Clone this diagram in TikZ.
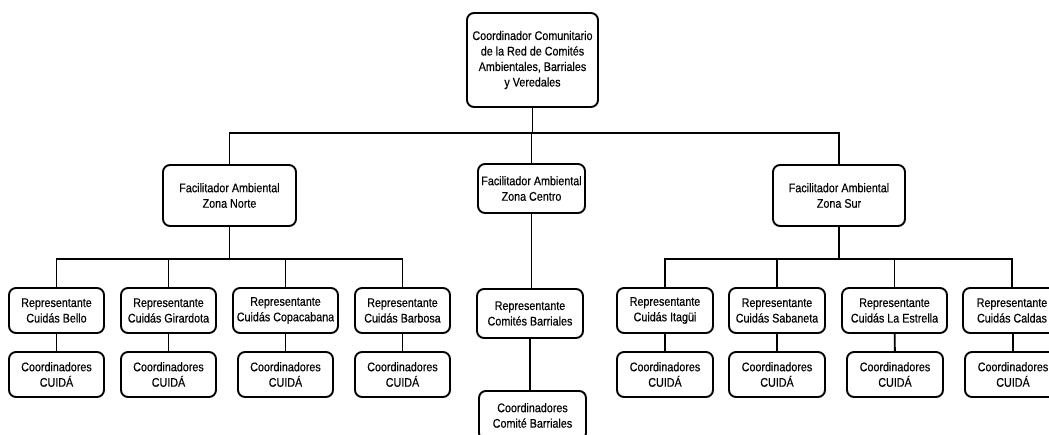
\documentclass[tikz,border=0pt]{standalone}
\usepackage{fontspec}
\setmainfont[FakeStretch=0.86,FakeBold=0.35]{Liberation Sans}
\begin{document}
\begin{tikzpicture}[x=1pt,y=-1pt,
  box/.style={draw=black,line width=1.9pt,rounded corners=7pt,fill=white,align=center,
    font=\fontsize{12.5}{15.5}\selectfont,inner sep=0pt},
  rep/.style={box,minimum height=45pt},
  conn/.style={line width=1.9pt}]
\useasboundingbox (0,0) rectangle (1049,434);
\clip (0,0) rectangle (1049,434);
\fill[white] (0,0) rectangle (1049,434);
% top
\node[box,minimum width=131pt,minimum height=94pt] (top) at (532.5,60) {Coordinador Comunitario\\de la Red de Comités\\Ambientales, Barriales\\y Veredales};
% zones
\node[box,minimum width=133pt,minimum height=61pt] (norte) at (229.5,195.5) {Facilitador Ambiental\\Zona Norte};
\node[box,minimum width=107pt,minimum height=49pt] (centro) at (531.5,188.5) {Facilitador Ambiental\\Zona Centro};
\node[box,minimum width=132pt,minimum height=61pt] (sur) at (839,195.5) {Facilitador Ambiental\\Zona Sur};
% norte reps
\node[rep,minimum width=95pt] (bello) at (56.5,310.5) {Representante\\Cuidás Bello};
\node[rep,minimum width=95pt] (girardota) at (168.5,310.5) {Representante\\Cuidás Girardota};
\node[rep,minimum width=105pt] (copacabana) at (285.5,310.5) {Representante\\Cuidás Copacabana};
\node[rep,minimum width=95pt] (barbosa) at (402.5,310.5) {Representante\\Cuidás Barbosa};
\node[rep,minimum width=95pt] (c1) at (56.5,374.5) {Coordinadores\\CUIDÁ};
\node[rep,minimum width=95pt] (c2) at (168.5,374.5) {Coordinadores\\CUIDÁ};
\node[rep,minimum width=95pt] (c3) at (285.5,374.5) {Coordinadores\\CUIDÁ};
\node[rep,minimum width=95pt] (c4) at (402.5,374.5) {Coordinadores\\CUIDÁ};
% centro
\node[box,minimum width=106pt,minimum height=49pt] (repcb) at (530,313.5) {Representante\\Comités Barriales};
\node[box,minimum width=107pt,minimum height=49pt,anchor=north] (coorcb) at (532.5,390) {Coordinadores\\Comité Barriales};
% sur reps
\node[rep,minimum width=96pt] (itagui) at (665,310.5) {Representante\\Cuidás Itagüi};
\node[rep,minimum width=96pt] (sabaneta) at (777,310.5) {Representante\\Cuidás Sabaneta};
\node[rep,minimum width=105pt] (estrella) at (894.5,310.5) {Representante\\Cuidás La Estrella};
\node[rep,minimum width=98pt] (caldas) at (1012,310.5) {Representante\\Cuidás Caldas};
\node[rep,minimum width=96pt] (c5) at (665,374.5) {Coordinadores\\CUIDÁ};
\node[rep,minimum width=96pt] (c6) at (777,374.5) {Coordinadores\\CUIDÁ};
\node[rep,minimum width=96pt] (c7) at (895,374.5) {Coordinadores\\CUIDÁ};
\node[rep,minimum width=96pt] (c8) at (1013,374.5) {Coordinadores\\CUIDÁ};
% connectors
\coordinate (b0) at (532.5,133);
\coordinate (bn) at (229.5,259);
\coordinate (bs) at (839,259);
\draw[conn] (top.south) -- (b0);
\draw[conn] (norte.north) |- (b0) -| (sur.north);
\draw[conn] (centro.north) -- (centro.north |- b0);
\draw[conn] (norte.south) -- (bn);
\draw[conn] (bello.north) |- (bn) -| (barbosa.north);
\draw[conn] (girardota.north) -- (girardota.north |- bn);
\draw[conn] (copacabana.north) -- (copacabana.north |- bn);
\draw[conn] (sur.south) -- (bs);
\draw[conn] (itagui.north) |- (bs) -| (caldas.north);
\draw[conn] (sabaneta.north) -- (sabaneta.north |- bs);
\draw[conn] (estrella.north) -- (estrella.north |- bs);
\draw[conn] (centro.south) -- (repcb.north -| centro.south);
\draw[conn] (repcb.south) -- (coorcb.north -| repcb.south);
\draw[conn] (bello) -- (c1);
\draw[conn] (girardota) -- (c2);
\draw[conn] (copacabana) -- (c3);
\draw[conn] (barbosa) -- (c4);
\draw[conn] (itagui) -- (c5);
\draw[conn] (sabaneta) -- (c6);
\draw[conn] (estrella) -- (c7);
\draw[conn] (caldas.south -| c8) -- (c8);
\end{tikzpicture}
\end{document}
